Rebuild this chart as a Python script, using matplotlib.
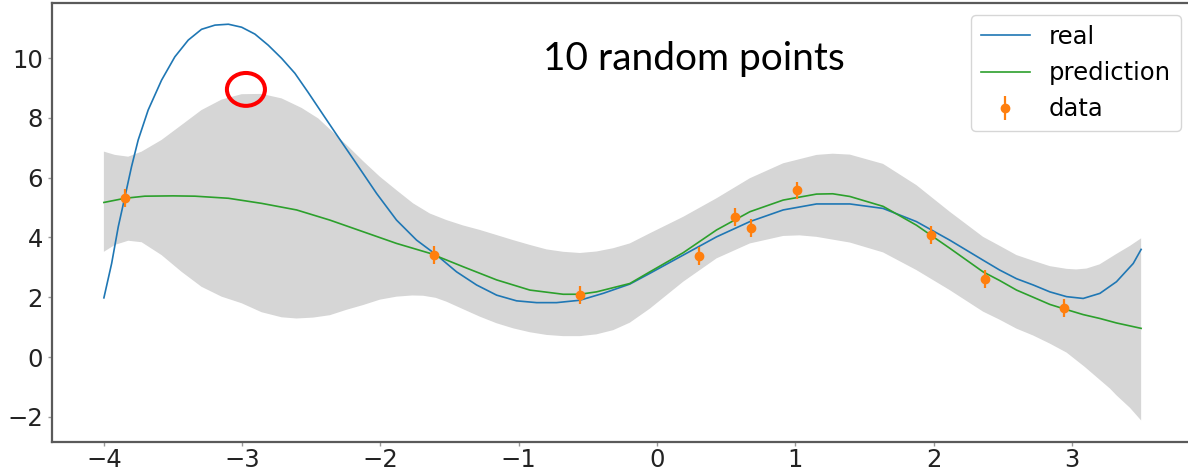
import matplotlib
matplotlib.use("Agg")
import matplotlib.pyplot as plt
from matplotlib.patches import Ellipse

# real function
real_x = [-4.0, -3.944, -3.896, -3.848, -3.80, -3.752, -3.68, -3.583, -3.487, -3.39,
          -3.294, -3.197, -3.10, -3.004, -2.908, -2.812, -2.715, -2.619, -2.523, -2.407,
          -2.318, -2.173, -2.028, -1.884, -1.739, -1.594, -1.45, -1.305, -1.16, -1.016,
          -0.871, -0.727, -0.558, -0.39, -0.197, -0.052, 0.189, 0.43, 0.671, 0.912,
          1.153, 1.394, 1.634, 1.875, 2.116, 2.357, 2.477, 2.599, 2.72, 2.84,
          2.961, 3.081, 3.202, 3.322, 3.443, 3.5]
real_y = [1.98, 3.13, 4.36, 5.36, 6.37, 7.26, 8.26, 9.26, 10.04, 10.60,
          10.96, 11.10, 11.13, 11.03, 10.80, 10.43, 9.99, 9.49, 8.85, 8.05,
          7.44, 6.46, 5.47, 4.58, 3.91, 3.41, 2.85, 2.41, 2.07, 1.88,
          1.82, 1.82, 1.90, 2.13, 2.44, 2.80, 3.41, 4.02, 4.53, 4.92,
          5.12, 5.12, 4.97, 4.53, 3.91, 3.24, 2.91, 2.62, 2.41, 2.18,
          2.02, 1.96, 2.13, 2.52, 3.13, 3.60]

# prediction (mean)
pred_x = [-4.0, -3.848, -3.704, -3.50, -3.342, -3.10, -2.86, -2.607, -2.366, -2.125,
          -1.884, -1.643, -1.402, -1.16, -0.92, -0.679, -0.558, -0.438, -0.197, -0.052,
          0.189, 0.43, 0.671, 0.912, 1.153, 1.27, 1.394, 1.634, 1.875, 2.116,
          2.357, 2.477, 2.599, 2.72, 2.84, 2.937, 3.081, 3.202, 3.322, 3.5]
pred_y = [5.17, 5.31, 5.38, 5.39, 5.38, 5.31, 5.14, 4.92, 4.58, 4.19,
          3.80, 3.47, 3.02, 2.58, 2.24, 2.10, 2.10, 2.18, 2.46, 2.85,
          3.49, 4.25, 4.86, 5.25, 5.45, 5.46, 5.37, 5.04, 4.41, 3.64,
          2.85, 2.56, 2.24, 2.00, 1.76, 1.62, 1.42, 1.29, 1.14, 0.96]

# confidence band, upper edge
upper_x = [-4.0, -3.92, -3.824, -3.727, -3.583, -3.438, -3.294, -3.149, -3.004, -2.86,
           -2.715, -2.57, -2.45, -2.246, -2.125, -2.004, -1.884, -1.764, -1.643, -1.522,
           -1.402, -1.281, -1.16, -1.04, -0.92, -0.799, -0.679, -0.558, -0.438, -0.317,
           -0.197, -0.052, 0.189, 0.43, 0.671, 0.912, 1.153, 1.27, 1.394, 1.634,
           1.875, 2.116, 2.357, 2.477, 2.599, 2.72, 2.84, 2.961, 3.03, 3.105,
           3.2, 3.322, 3.42, 3.5]
upper = [6.87, 6.76, 6.70, 6.87, 7.26, 7.76, 8.26, 8.61, 8.79, 8.80,
         8.65, 8.33, 7.98, 7.10, 6.55, 6.03, 5.58, 5.14, 4.80, 4.58,
         4.40, 4.25, 4.08, 3.91, 3.75, 3.60, 3.52, 3.48, 3.53, 3.64,
         3.80, 4.14, 4.69, 5.31, 5.98, 6.48, 6.76, 6.80, 6.77, 6.46,
         5.75, 4.86, 4.02, 3.72, 3.41, 3.22, 3.04, 2.95, 2.93, 2.96,
         3.10, 3.45, 3.72, 3.97]

# confidence band, lower edge
lower_x = [-4.0, -3.92, -3.824, -3.727, -3.583, -3.438, -3.294, -3.149, -3.004, -2.86,
           -2.715, -2.607, -2.487, -2.366, -2.246, -2.125, -2.004, -1.884, -1.77, -1.69,
           -1.6, -1.522, -1.402, -1.281, -1.16, -1.04, -0.92, -0.799, -0.679, -0.558,
           -0.438, -0.317, -0.197, -0.052, 0.189, 0.43, 0.671, 0.912, 1.03, 1.153,
           1.394, 1.634, 1.875, 2.116, 2.357, 2.477, 2.599, 2.72, 2.84, 2.961,
           3.09, 3.274, 3.322, 3.42, 3.5]
lower = [3.52, 3.75, 3.89, 3.84, 3.41, 2.85, 2.35, 2.02, 1.80, 1.50,
         1.33, 1.29, 1.32, 1.40, 1.58, 1.74, 1.92, 2.02, 2.06, 2.05,
         1.98, 1.85, 1.60, 1.35, 1.13, 0.96, 0.83, 0.74, 0.70, 0.70,
         0.76, 0.90, 1.15, 1.62, 2.52, 3.30, 3.80, 4.05, 4.07, 4.02,
         3.83, 3.50, 2.91, 2.24, 1.52, 1.25, 0.95, 0.72, 0.45, 0.15,
         -0.32, -1.05, -1.28, -1.70, -2.12]

# the 10 noisy samples
data_x = [-3.85, -1.61, -0.56, 0.30, 0.56, 0.68, 1.01, 1.98, 2.37, 2.94]
data_y = [5.33, 3.41, 2.09, 3.38, 4.67, 4.33, 5.57, 4.09, 2.60, 1.63]
data_err = [0.3, 0.3, 0.3, 0.3, 0.3, 0.3, 0.3, 0.3, 0.3, 0.3]

x_ticks = [-4, -3, -2, -1, 0, 1, 2, 3]
y_ticks = [-2, 0, 2, 4, 6, 8, 10]

fig = plt.figure(figsize=(11.88, 4.75), dpi=100)
ax = fig.add_axes([0.0438, 0.0695, 0.9604, 0.9242])

ax.fill(upper_x + lower_x[::-1], upper + lower[::-1], color="#d6d6d6", linewidth=0)
ax.plot(real_x, real_y, color="#1f77b4", linewidth=1.2, label="real")
ax.plot(pred_x, pred_y, color="#2ca02c", linewidth=1.2, label="prediction")
ax.errorbar(data_x, data_y, yerr=data_err, fmt="o", color="#ff7f0e",
            ms=6, elinewidth=1.6, capsize=0, label="data")

ax.set_xlim(-4.375, 3.875)
ax.set_ylim(-2.84, 11.84)
ax.set_xticks(x_ticks)
ax.set_yticks(y_ticks)
ax.tick_params(labelsize=17.5, labelcolor="#222222", color="#999999",
               length=3, width=1)
ax.tick_params(axis="x", pad=1.5)
for side in ax.spines.values():
    side.set_color("#5a5a5a")
    side.set_linewidth(1.6)

ax.legend(loc="upper right", fontsize=17.5)

# hand-drawn style annotation
ax.add_patch(Ellipse((-2.973, 8.95), 0.275, 1.10, fill=False,
                     edgecolor="red", linewidth=2.9, clip_on=False))
fig.text(0.584, 0.8526, "10 random points", fontsize=28, family="Lato",
         ha="center", va="baseline", color="black")

fig.savefig("out.png", dpi=100)
